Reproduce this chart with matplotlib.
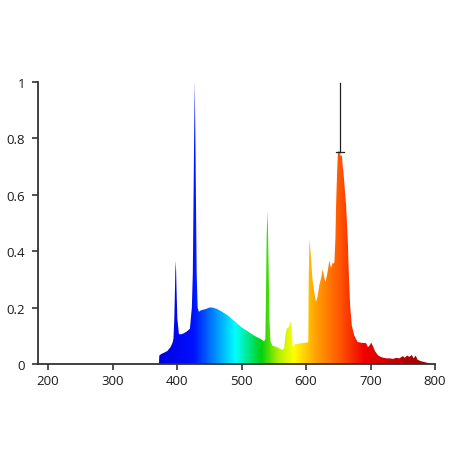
import numpy as np
import matplotlib
matplotlib.use("Agg")
import matplotlib.pyplot as plt
from matplotlib.colors import LinearSegmentedColormap

# spectrum (wavelength nm, relative intensity)
wavelength = [372, 372.5, 376, 380, 385, 390, 393, 394.5, 395.8, 396.8, 397.4, 398.2, 399.3,
              400.5, 403, 406, 410, 415, 420, 423, 424.5, 426.5, 427.5, 428.5, 430.5, 432,
              434, 437, 445, 450, 455, 462, 470, 480, 490, 500, 510, 520, 530, 535, 537,
              538, 539, 540, 541, 542, 543.5, 545, 548, 555, 563, 566, 568, 570, 573, 576,
              578, 579, 580, 583, 595, 603.5, 604.2, 605.2, 607, 610, 613, 615.5, 618,
              620.7, 623, 626, 628, 630, 633, 636.2, 638.8, 641.4, 643, 644, 645.6, 646.6,
              648.2, 649.5, 651, 652.5, 654, 655.5, 657, 658, 662.2, 664.7, 666.3, 668.4,
              671, 675, 680, 686, 693, 696, 698.5, 701, 704, 707, 712, 716, 720, 725, 730,
              735, 740, 745, 750, 753, 757, 760, 764, 767, 770, 773, 778, 785, 790, 795]
intensity = [0, 0.03, 0.036, 0.04, 0.046, 0.06, 0.075, 0.09, 0.16, 0.26, 0.33, 0.366, 0.26,
             0.16, 0.106, 0.105, 0.108, 0.115, 0.125, 0.2, 0.32, 0.79, 1.0, 0.79, 0.32, 0.2,
             0.185, 0.19, 0.195, 0.2, 0.2, 0.195, 0.185, 0.17, 0.15, 0.13, 0.115, 0.1,
             0.088, 0.08, 0.09, 0.25, 0.45, 0.54, 0.48, 0.35, 0.15, 0.08, 0.065, 0.06,
             0.05, 0.055, 0.1, 0.125, 0.13, 0.15, 0.12, 0.07, 0.06, 0.07, 0.074, 0.077,
             0.3, 0.443, 0.4, 0.3, 0.25, 0.22, 0.24, 0.28, 0.3, 0.336, 0.31, 0.29, 0.32,
             0.366, 0.34, 0.36, 0.355, 0.36, 0.443, 0.56, 0.679, 0.75, 0.755, 0.75, 0.735,
             0.74, 0.7, 0.68, 0.56, 0.443, 0.325, 0.207, 0.136, 0.1, 0.078, 0.075, 0.074,
             0.06, 0.065, 0.076, 0.062, 0.045, 0.03, 0.025, 0.022, 0.02, 0.02, 0.018,
             0.022, 0.02, 0.028, 0.022, 0.03, 0.025, 0.032, 0.02, 0.03, 0.015, 0.01,
             0.006, 0.003, 0]

# rainbow colour stops along the wavelength axis
color_nm = [372, 425, 450, 490, 530, 555, 580, 615, 650, 690, 740, 800]
color_rgb = ["#0000e0", "#0010ff", "#0070ff", "#00ffff", "#00d010", "#aaee00",
             "#ffff00", "#ffa000", "#ff5a00", "#f00000", "#c00000", "#900000"]

# marker line over the red peak
marker_x = 652.5
marker_low, marker_high = 0.751, 0.995

fig = plt.figure(figsize=(4.52, 4.52), dpi=100)
ax = fig.add_axes([0.0834, 0.1925, 0.8790, 0.6245])

x0, x1 = 184, 800
c0, c1 = color_nm[0], color_nm[-1]
cmap = LinearSegmentedColormap.from_list(
    "spec", [((n - c0) / (c1 - c0), c) for n, c in zip(color_nm, color_rgb)])
grad = np.linspace(0, 1, 800)[None, :]
img = ax.imshow(grad, cmap=cmap, aspect="auto", extent=[c0, c1, 0, 1],
                origin="lower", interpolation="bilinear", zorder=1)
poly = ax.fill_between(wavelength, intensity, 0, color="none", lw=0)
img.set_clip_path(poly.get_paths()[0], transform=ax.transData)

ax.plot([marker_x, marker_x], [marker_low, marker_high], color="#222222", lw=0.9, zorder=3)
ax.plot([marker_x - 6.5, marker_x + 6.5], [marker_low, marker_low], color="#222222",
        lw=0.9, zorder=3)

ax.set_xlim(x0, x1)
ax.set_ylim(0, 1)
ax.set_xticks([200, 300, 400, 500, 600, 700, 800])
ax.set_yticks([0, 0.2, 0.4, 0.6, 0.8, 1])
ax.set_yticklabels(["0", "0.2", "0.4", "0.6", "0.8", "1"])
for s in ["top", "right"]:
    ax.spines[s].set_visible(False)
for s in ["left", "bottom"]:
    ax.spines[s].set_color("#333333")
    ax.spines[s].set_linewidth(1.3)
ax.tick_params(direction="out", length=4.5, width=1.2, color="#333333",
               labelsize=9.5, labelcolor="#1a1a1a")
ax.tick_params(axis="y", pad=4.5)
ax.tick_params(axis="x", pad=2.5)
for lab in ax.get_xticklabels() + ax.get_yticklabels():
    lab.set_fontfamily("Open Sans")

fig.savefig("out.png", dpi=100)
